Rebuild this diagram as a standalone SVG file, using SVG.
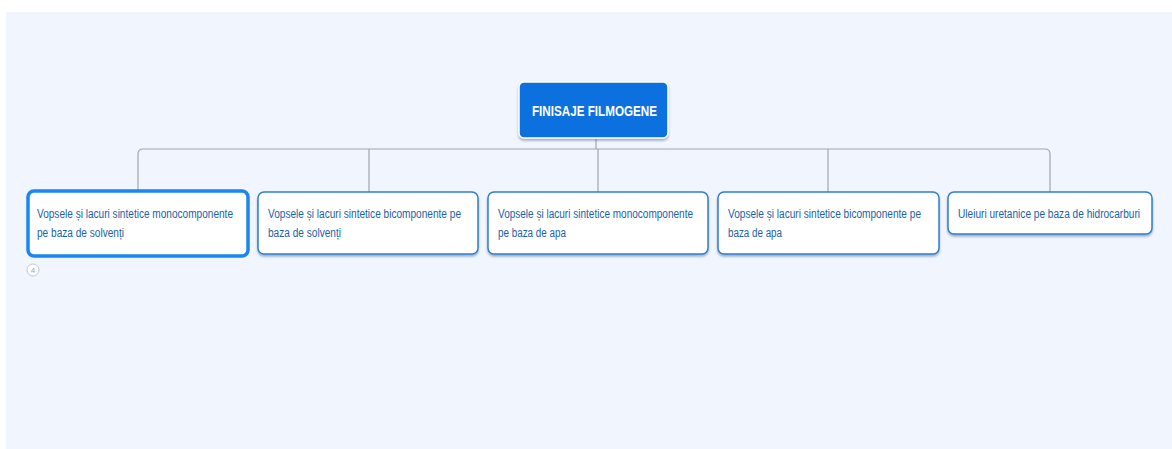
<svg xmlns="http://www.w3.org/2000/svg" width="1172" height="449" viewBox="0 0 1172 449">
  <defs>
    <filter id="sh" x="-10%" y="-20%" width="120%" height="150%">
      <feDropShadow dx="0" dy="2" stdDeviation="1.2" flood-color="#3a5a80" flood-opacity="0.45"/>
    </filter>
  </defs>
  <style>
    .bg { fill: #f1f5fd; }
    .conn { fill: none; stroke: #a3a6ab; stroke-width: 1.2; }
    .child { fill: #ffffff; stroke: #2f7fd0; stroke-width: 1.5; }
    .sel { fill: #ffffff; stroke: #1a86ee; stroke-width: 3.5; }
    .root { fill: #0b70df; stroke: #ffffff; stroke-width: 1.5; }
    .t { font-family: "Liberation Sans", Arial, sans-serif; font-size: 12px; fill: #1b5fa6; }
    .rt { font-family: "Liberation Sans", Arial, sans-serif; font-size: 14px; font-weight: bold; fill: #ffffff; }
    .badge { fill: #ffffff; stroke: #c4c7cc; stroke-width: 1; }
    .bt { font-family: "Liberation Sans", Arial, sans-serif; font-size: 8px; fill: #a0a3a8; }
  </style>
  <rect x="0" y="0" width="1172" height="449" fill="#ffffff"/>
  <rect class="bg" x="6" y="12" width="1166" height="437"/>

  <g id="connectors">
    <path class="conn" d="M596,139 V149"/>
    <path class="conn" d="M138,190 V154 Q138,149 143,149 H1045 Q1050,149 1050,154 V192"/>
    <path class="conn" d="M369,149 V192"/>
    <path class="conn" d="M598,149 V192"/>
    <path class="conn" d="M828,149 V192"/>
  </g>

  <g id="root">
    <rect class="root" x="519" y="82" width="149" height="56" rx="5" filter="url(#sh)"/>
    <text class="rt" x="532" y="116" textLength="125" lengthAdjust="spacingAndGlyphs">FINISAJE FILMOGENE</text>
  </g>

  <g id="node1">
    <rect class="sel" x="28" y="191" width="220" height="65" rx="6"/>
    <text class="t" x="37" y="218" textLength="196" lengthAdjust="spacingAndGlyphs">Vopsele și lacuri sintetice monocomponente</text>
    <text class="t" x="37" y="237" textLength="87" lengthAdjust="spacingAndGlyphs">pe baza de solvenți</text>
    <circle class="badge" cx="33" cy="270" r="6"/>
    <text class="bt" x="33" y="273" text-anchor="middle">4</text>
  </g>

  <g id="node2">
    <rect class="child" x="258" y="192" width="220" height="62" rx="6" filter="url(#sh)"/>
    <text class="t" x="268" y="218" textLength="193" lengthAdjust="spacingAndGlyphs">Vopsele și lacuri sintetice bicomponente pe</text>
    <text class="t" x="268" y="237" textLength="73" lengthAdjust="spacingAndGlyphs">baza de solvenți</text>
  </g>

  <g id="node3">
    <rect class="child" x="488" y="192" width="220" height="62" rx="6" filter="url(#sh)"/>
    <text class="t" x="498" y="218" textLength="195" lengthAdjust="spacingAndGlyphs">Vopsele și lacuri sintetice monocomponente</text>
    <text class="t" x="498" y="237" textLength="68" lengthAdjust="spacingAndGlyphs">pe baza de apa</text>
  </g>

  <g id="node4">
    <rect class="child" x="718" y="192" width="221" height="62" rx="6" filter="url(#sh)"/>
    <text class="t" x="728" y="218" textLength="193" lengthAdjust="spacingAndGlyphs">Vopsele și lacuri sintetice bicomponente pe</text>
    <text class="t" x="728" y="237" textLength="54" lengthAdjust="spacingAndGlyphs">baza de apa</text>
  </g>

  <g id="node5">
    <rect class="child" x="948" y="192" width="204" height="42" rx="6" filter="url(#sh)"/>
    <text class="t" x="958" y="218" textLength="182" lengthAdjust="spacingAndGlyphs">Uleiuri uretanice pe baza de hidrocarburi</text>
  </g>
</svg>
